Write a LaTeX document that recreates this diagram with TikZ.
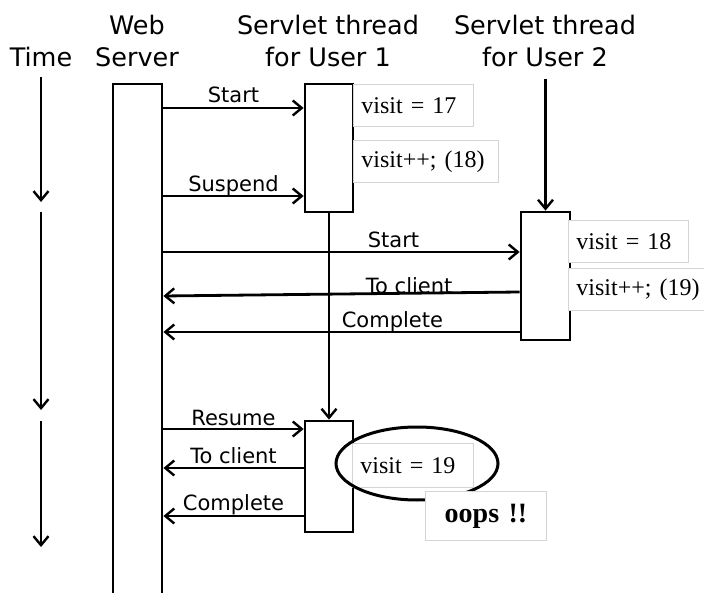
\documentclass[tikz,border=0pt]{standalone}
\usepackage{fontspec}
\setmainfont{Liberation Serif}
\newfontfamily\hand{DejaVu Sans}
\usetikzlibrary{arrows.meta}
\tikzset{
  every picture/.style={x=1pt,y=-1pt},
  life/.style={draw, line width=2.8pt, fill=white, rectangle, inner sep=0pt},
  msg/.style={line width=2.8pt, -{Straight Barb[length=9pt,width=15pt,line width=2.4pt]}},
  lbl/.style={font=\hand\fontsize{21}{24}\selectfont, inner sep=0pt, anchor=base},
  head/.style={font=\hand\fontsize{25.5}{30}\selectfont, inner sep=0pt, anchor=base},
  vbox/.style={draw=black!17, line width=0.9pt, fill=white, rectangle, anchor=north west,
    inner xsep=8pt, inner ysep=0pt, align=left, minimum height=42pt,
    font=\fontsize{24}{28}\selectfont},
}
\begin{document}
\begin{tikzpicture}
\useasboundingbox (0,0) rectangle (704,593);
\clip (0,0) rectangle (704,593);
% headers
\node[head] (time) at (41,67) {Time};
\node[head] (web) at (137,35) {Web};
\node[head] (server) at (137,67) {Server};
\node[head] (t1a) at (328,35) {Servlet thread};
\node[head] (t1b) at (328,67) {for User 1};
\node[head] (t2a) at (545,35) {Servlet thread};
\node[head] (t2b) at (545,67) {for User 2};
% time arrows
\coordinate (ta0) at (41,77);
\coordinate (ta1) at (41,202);
\coordinate (tb0) at (41,212);
\coordinate (tb1) at (41,410);
\coordinate (tc0) at (41,421);
\coordinate (tc1) at (41,547);
\draw[msg] (ta0) -- (ta1);
\draw[msg] (tb0) -- (tb1);
\draw[msg] (tc0) -- (tc1);
% lifelines
\node[life, minimum width=49pt, minimum height=520pt] (ws) at (137.5,344) {};
\node[life, minimum width=48pt, minimum height=128pt] (u1a) at (329,148) {};
\node[life, minimum width=48pt, minimum height=111pt] (u1b) at (329,476.5) {};
\node[life, minimum width=49pt, minimum height=128pt] (u2) at (545.5,276) {};
\coordinate (u2top) at (545.5,79);
\draw[msg] (u2top) -- (u2.north);
\draw[msg] (u1a.south) -- (u1b.north);
% messages, phase 1
\draw[msg] (ws.east |- 0,108) -- (u1a.west |- 0,108)
  node[lbl, midway, yshift=5pt] {Start};
\draw[msg] (ws.east |- 0,196) -- (u1a.west |- 0,196)
  node[lbl, midway, yshift=4pt] {Suspend};
% phase 2
\draw[msg] (ws.east |- 0,252) -- (u2.west |- 0,252)
  node[lbl, pos=0.646, yshift=4pt] {Start};
\draw[msg] (u2.west |- 0,292) -- (ws.east |- 0,296)
  node[lbl, pos=0.31, yshift=0pt] {To client};
\draw[msg] (u2.west |- 0,332) -- (ws.east |- 0,332)
  node[lbl, pos=0.357, yshift=4pt] {Complete};
% phase 3
\draw[msg] (ws.east |- 0,429) -- (u1b.west |- 0,429)
  node[lbl, midway, yshift=4pt] {Resume};
\draw[msg] (u1b.west |- 0,468) -- (ws.east |- 0,468)
  node[lbl, midway, yshift=5pt] {To client};
\draw[msg] (u1b.west |- 0,516) -- (ws.east |- 0,516)
  node[lbl, midway, yshift=6pt] {Complete};
% value boxes
\node[vbox, text width=104pt] (v17) at (353,84) {visit = 17};
\node[vbox, text width=129pt] (v18) at (353,140) {visit++; (18)};
\node[vbox, text width=104pt] (v18b) at (568,220) {visit = 18};
\node[vbox, text width=140pt] (v19) at (568,268) {visit++; (19)};
\node[vbox, text width=105pt, minimum height=44pt] (v19b) at (352,443) {visit = 19};
\draw[line width=3pt] (417,463.5) ellipse [x radius=81, y radius=36.5];
\node[vbox, text width=105pt, minimum height=49pt, align=center,
  font=\bfseries\fontsize{28}{32}\selectfont] (oops) at (425,491) {oops !!};
\end{tikzpicture}
\end{document}
